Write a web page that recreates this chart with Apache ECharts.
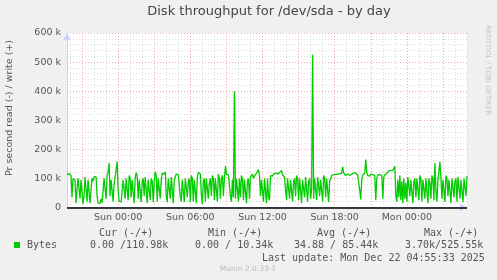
<!DOCTYPE html>
<html><head><meta charset="utf-8">
<script src="https://cdn.jsdelivr.net/npm/echarts@6/dist/echarts.min.js"></script>
<style>html,body{margin:0;padding:0;background:#f0f0f0}#c{width:497px;height:280px}</style>
</head><body><div id="c"></div>
<script>
const titleText = 'Disk throughput for /dev/sda - by day';
const yAxisName = 'Pr second read (-) / write (+)';
// write throughput, k bytes/s, one value per 5 minutes starting Sat 19:45
const writeValues = [
115,118,116,112,110,35,100,105,95,15,60,100,98,30,95,100,12,40,105,100,
20,95,100,15,60,100,90,105,103,106,40,15,18,14,30,16,20,100,95,30,
110,120,153,40,95,100,20,80,105,100,157,60,22,20,18,21,95,100,30,100,
95,25,110,100,35,95,100,15,100,120,110,30,95,100,18,90,100,40,105,100,
15,95,100,25,100,90,18,90,123,110,20,100,95,30,95,118,120,115,122,40,
18,100,95,30,105,100,15,95,100,115,117,113,115,40,20,95,100,18,100,95,
35,90,100,18,110,100,20,95,100,15,105,120,118,115,45,12,90,100,20,100,
95,30,85,100,40,110,100,25,100,95,20,115,100,30,100,110,40,100,142,115,
118,112,115,40,20,95,35,400,30,100,95,20,100,35,110,100,25,95,100,15,
90,100,30,105,110,115,100,108,112,118,120,130,110,40,95,100,20,100,95,15,
100,35,25,110,112,108,115,110,118,112,115,110,120,125,127,112,110,105,60,25,
100,95,30,95,100,20,90,100,40,110,100,25,100,95,15,95,100,35,105,100,
20,90,100,30,60,525,30,100,95,25,105,100,40,95,100,20,110,100,35,100,
95,18,90,100,110,115,113,116,114,112,115,113,116,114,118,140,118,112,110,113,
115,112,110,113,115,112,118,116,120,114,110,112,60,28,95,112,115,118,165,120,
110,112,108,115,110,113,112,110,25,100,112,115,113,115,110,30,105,112,115,118,
120,125,122,128,130,127,133,142,40,20,95,35,110,25,90,15,100,30,85,20,
105,100,40,95,100,15,90,100,35,100,95,25,110,100,20,95,100,30,100,95,
15,100,85,30,110,100,25,153,60,20,95,100,157,100,30,95,100,20,110,100,
40,95,100,15,100,95,35,90,100,20,105,100,30,95,100,18,100,95,40,108
];
const xTickIndex = [51,123,195,267,339];
const xTickLabels = ['Sun 00:00','Sun 06:00','Sun 12:00','Sun 18:00','Mon 00:00'];
const legendHeaders = ['Cur (-/+)','Min (-/+)','Avg (-/+)','Max (-/+)'];
const legendValues = ['0.00 /110.98k','0.00 / 10.34k','34.88 / 85.44k','3.70k/525.55k'];
const seriesName = 'Bytes';
const lastUpdate = 'Last update: Mon Dec 22 04:55:33 2025';
const versionText = 'Munin 2.0.33-1';
const sideText = 'RRDTOOL / TOBI OETIKER';

const categories = writeValues.map((_, i) => String(i));
const chart = echarts.init(document.getElementById('c'), null, {renderer: 'canvas'});
const green = '#00cc00';
const mono = '"DejaVu Sans Mono", monospace';
const sans = '"DejaVu Sans", sans-serif';
const hdrX = [99, 208, 317, 424];
const valX = [90, 195, 294, 405];
const graphics = [
  {type:'text', x:269, y:12, style:{text:titleText, align:'center', verticalAlign:'middle', font:'13px ' + sans, fill:'#444'}},
  {type:'text', x:10, y:108, rotation:Math.PI/2, style:{text:yAxisName, align:'center', verticalAlign:'middle', font:'9.5px ' + sans, fill:'#555'}},
  {type:'text', x:488, y:25, rotation:-Math.PI/2, style:{text:sideText, align:'left', verticalAlign:'middle', font:'7px ' + sans, fill:'#c4c4c4'}},
  {type:'rect', shape:{x:14, y:242, width:6, height:6}, style:{fill:green}},
  {type:'text', x:27, y:245.5, style:{text:seriesName, verticalAlign:'middle', font:'10px ' + mono, fill:'#555'}},
  {type:'text', x:262, y:258.5, style:{text:lastUpdate, verticalAlign:'middle', font:'10px ' + mono, fill:'#555'}},
  {type:'text', x:248, y:269.5, style:{text:versionText, align:'center', verticalAlign:'middle', font:'7.5px ' + sans, fill:'#bbb'}}
];
legendHeaders.forEach((t, k) => graphics.push({type:'text', x:hdrX[k], y:233.5, style:{text:t, verticalAlign:'middle', font:'10px ' + mono, fill:'#555'}}));
legendValues.forEach((t, k) => graphics.push({type:'text', x:valX[k], y:245.5, style:{text:t, verticalAlign:'middle', font:'10px ' + mono, fill:'#555'}}));

const isMajor = i => (i - xTickIndex[0]) % 36 === 0;
const isMinor = i => (i - xTickIndex[0]) % 12 === 0 && !isMajor(i);

chart.setOption({
  backgroundColor: '#f0f0f0',
  animation: false,
  grid: {left: 67, top: 33, width: 400, height: 174.5, show: true, backgroundColor: '#fff', borderWidth: 0},
  xAxis: [
    {type:'category', data:categories, boundaryGap:false, position:'bottom',
     axisLine:{show:false}, axisTick:{show:false, interval: isMinor},
     axisLabel:{show:true, interval: isMinor, formatter: () => '', fontSize:1},
     splitLine:{show:true, interval: isMinor, lineStyle:{color:'#dcdcdc', type:[1,2], width:1}}},
    {type:'category', data:categories, boundaryGap:false, position:'bottom',
     axisLine:{show:true, lineStyle:{color:'#ccccff', width:1}, symbol:['none','arrow'], symbolSize:[6,8]},
     axisTick:{show:false, interval: isMajor},
     axisLabel:{interval: i => xTickIndex.includes(i), formatter:(v, i) => xTickLabels[xTickIndex.indexOf(i)] || '', color:'#555', fontFamily:'DejaVu Sans', fontSize:9.5, margin:5},
     splitLine:{show:true, interval: isMajor, lineStyle:{color:'#f4a8a8', type:[1,2], width:1}}}
  ],
  yAxis: {type:'value', min:0, max:600, interval:100,
    axisLine:{show:true, lineStyle:{color:'#ccccff', width:1}, symbol:['none','arrow'], symbolSize:[6,8]},
    axisTick:{show:false},
    axisLabel:{formatter: v => v === 0 ? '0' : v + ' k', color:'#555', fontFamily:'DejaVu Sans', fontSize:9.5, margin:6},
    splitLine:{show:true, lineStyle:{color:'#f4a8a8', type:[1,2], width:1}},
    minorTick:{show:true, splitNumber:5, length:0},
    minorSplitLine:{show:true, lineStyle:{color:'#dcdcdc', type:[1,2], width:1}}
  },
  series: [{
    type:'line', name:seriesName, data:writeValues, xAxisIndex:1, showSymbol:false, symbol:'none',
    lineStyle:{color:green, width:1.3}, itemStyle:{color:green},
    markLine:{silent:true, symbol:'none', label:{show:false}, lineStyle:{color:'#000', type:'solid', width:1.5}, data:[{yAxis:0}]},
    z: 3
  }],
  graphic: graphics
});
</script></body></html>
